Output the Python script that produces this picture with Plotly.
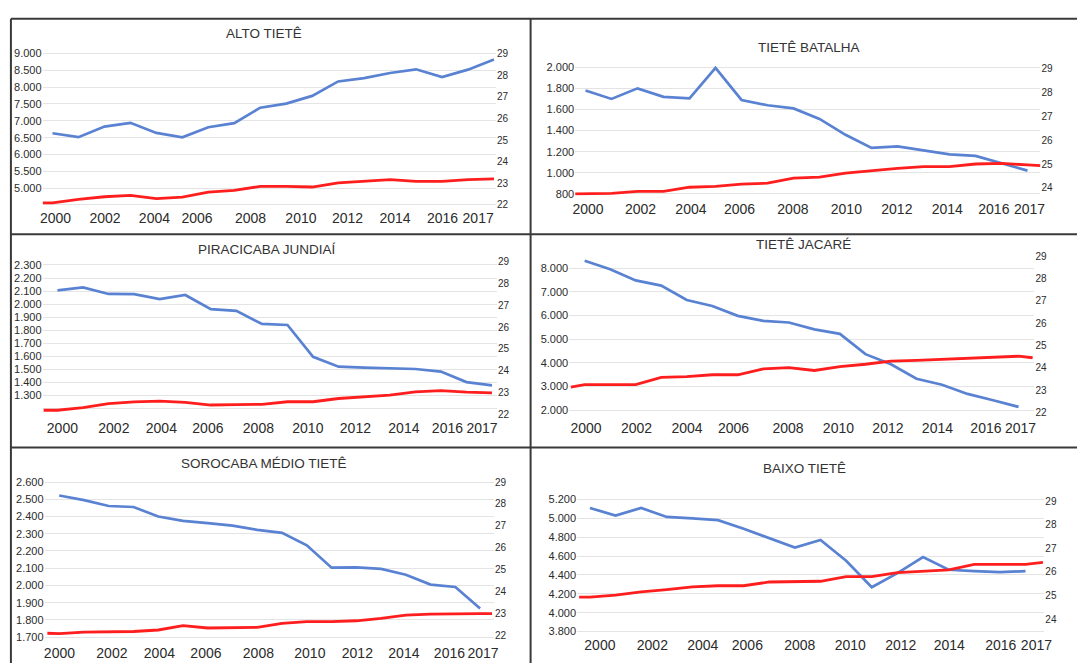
import plotly.graph_objects as go

W, H = 1085, 668

# ---------------- data ----------------
years = list(range(2000, 2018))
xtick_text = ["2000", "2002", "2004", "2006", "2008", "2010", "2012", "2014", "2016", "2017"]

titles = ["ALTO TIETÊ", "TIETÊ BATALHA", "PIRACICABA JUNDIAÍ",
          "TIETÊ JACARÉ", "SOROCABA MÉDIO TIETÊ", "BAIXO TIETÊ"]

# blue series (left axis)
blue_alto_tiete = [6630, 6515, 6830, 6940, 6640, 6510, 6810, 6930, 7390, 7510,
                   7740, 8170, 8270, 8420, 8530, 8300, 8520, 8820]
blue_tiete_batalha = [1780, 1700, 1800, 1720, 1705, 1995, 1690, 1640, 1610, 1510,
                      1360, 1235, 1250, 1210, 1175, 1160, 1090, 1020]
blue_piracicaba = [2105, 2128, 2078, 2076, 2038, 2070, 1961, 1948, 1848, 1840,
                   1596, 1521, 1513, 1508, 1503, 1483, 1403, 1378]
blue_tiete_jacare = [8320, 7960, 7490, 7270, 6660, 6410, 5990, 5780, 5710, 5420,
                     5230, 4370, 3940, 3330, 3080, 2690, 2420, 2140]
blue_sorocaba = [2522, 2495, 2461, 2455, 2400, 2375, 2362, 2347, 2322, 2305,
                 2233, 2103, 2105, 2096, 2062, 2005, 1991, 1866]
blue_baixo_tiete = [5110, 5030, 5110, 5015, 5000, 4980, 4890, 4790, 4690, 4770,
                    4550, 4270, 4420, 4590, 4455, 4440, 4430, 4440]

# red series (right axis) - slightly longer time span than blue
red_x_alto_tiete = [1999.62] + years
red_alto_tiete = [22.10, 22.10, 22.26, 22.38, 22.44, 22.29, 22.36, 22.59, 22.67, 22.86,
                  22.86, 22.83, 23.02, 23.09, 23.17, 23.09, 23.09, 23.17, 23.21]
red_x_tiete_batalha = [1999.6] + years + [2017.5]
red_tiete_batalha = [23.75, 23.75, 23.77, 23.86, 23.86, 24.03, 24.07, 24.16, 24.20, 24.41,
                     24.45, 24.62, 24.73, 24.82, 24.89, 24.89, 25.00, 25.03, 24.96, 24.93]
red_x_piracicaba = [1999.46] + years
red_piracicaba = [22.18, 22.18, 22.30, 22.48, 22.56, 22.60, 22.54, 22.42, 22.44, 22.45,
                  22.57, 22.57, 22.72, 22.80, 22.87, 23.02, 23.08, 23.01, 22.98]
red_x_tiete_jacare = [1999.46] + years + [2017.55]
red_tiete_jacare = [23.14, 23.25, 23.25, 23.25, 23.57, 23.61, 23.69, 23.69, 23.95, 24.01,
                    23.88, 24.05, 24.16, 24.30, 24.33, 24.38, 24.45, 24.48, 24.52, 24.45]
red_x_sorocaba = [1999.52] + years + [2017.48]
red_sorocaba = [22.10, 22.08, 22.15, 22.15, 22.18, 22.25, 22.45, 22.34, 22.34, 22.37,
                22.55, 22.63, 22.63, 22.67, 22.78, 22.93, 22.97, 23.00, 23.00, 23.00]
red_x_baixo_tiete = [1999.58] + years + [2017.68]
red_baixo_tiete = [24.93, 24.93, 25.01, 25.15, 25.25, 25.36, 25.41, 25.41, 25.57, 25.57,
                   25.60, 25.80, 25.80, 25.97, 26.04, 26.08, 26.32, 26.32, 26.32, 26.40]

# tick values / labels
lt_alto = [4500, 5000, 5500, 6000, 6500, 7000, 7500, 8000, 8500, 9000]
ll_alto = ["", "5.000", "5.500", "6.000", "6.500", "7.000", "7.500", "8.000", "8.500", "9.000"]
lt_batalha = [800, 1000, 1200, 1400, 1600, 1800, 2000]
ll_batalha = ["800", "1.000", "1.200", "1.400", "1.600", "1.800", "2.000"]
lt_pira = [1200, 1300, 1400, 1500, 1600, 1700, 1800, 1900, 2000, 2100, 2200, 2300]
ll_pira = ["", "1.300", "1.400", "1.500", "1.600", "1.700", "1.800", "1.900",
           "2.000", "2.100", "2.200", "2.300"]
lt_jacare = [2000, 3000, 4000, 5000, 6000, 7000, 8000]
ll_jacare = ["2.000", "3.000", "4.000", "5.000", "6.000", "7.000", "8.000"]
lt_soro = [1700, 1800, 1900, 2000, 2100, 2200, 2300, 2400, 2500, 2600]
ll_soro = ["1.700", "1.800", "1.900", "2.000", "2.100", "2.200", "2.300", "2.400",
           "2.500", "2.600"]
lt_baixo = [3800, 4000, 4200, 4400, 4600, 4800, 5000, 5200]
ll_baixo = ["3.800", "4.000", "4.200", "4.400", "4.600", "4.800", "5.000", "5.200"]
rt_22_29 = [22, 23, 24, 25, 26, 27, 28, 29]
rt_24_29 = [24, 25, 26, 27, 28, 29]

# ---------------- layout geometry (pixels) ----------------
# dx: plot x-extent, xr: pixel<->year calibration, dy: plot y-extent,
# lr/rr: pixel<->value calibration of left/right axes, tp: title position,
# lx: where the reference prints the year labels (label placement), so: label standoff
panels = [
    dict(blue=blue_alto_tiete, rx=red_x_alto_tiete, red=red_alto_tiete,
         lt=lt_alto, ll=ll_alto, rt=rt_22_29,
         dx=(40, 498), xr=((50, 2000), (496, 2017)), dy=(46, 204),
         lr=((48.3, 9000), (202.3, 4500)), rr=((48.3, 29), (202.3, 22)), tp=(264, 28),
         lx=[53, 103, 153, 196, 250, 301, 348, 396, 444, 480], so=1),
    dict(blue=blue_tiete_batalha, rx=red_x_tiete_batalha, red=red_tiete_batalha,
         lt=lt_batalha, ll=ll_batalha, rt=rt_24_29,
         dx=(578, 1048), xr=((588.5, 2000), (1035, 2017)), dy=(60, 193),
         lr=((62.3, 2000), (191, 800)), rr=((63.3, 29), (185, 24)), tp=(814, 42),
         lx=[591, 644, 695, 744, 798, 852, 903, 954, 1001, 1037], so=3),
    dict(blue=blue_piracicaba, rx=red_x_piracicaba, red=red_piracicaba,
         lt=lt_pira, ll=ll_pira, rt=rt_22_29,
         dx=(40, 499), xr=((55, 2000), (494, 2017)), dy=(260, 416),
         lr=((263.3, 2300), (409.3, 1200)), rr=((260, 29), (415, 22)), tp=(267, 248),
         lx=[60, 112, 160, 207, 258, 308, 356, 405, 449, 484], so=3),
    dict(blue=blue_tiete_jacare, rx=red_x_tiete_jacare, red=red_tiete_jacare,
         lt=lt_jacare, ll=ll_jacare, rt=rt_22_29,
         dx=(572, 1042), xr=((587.6, 2000), (1026, 2017)), dy=(252, 415),
         lr=((266.7, 8000), (411, 2000)), rr=((254.3, 29), (413.3, 22)), tp=(809, 243),
         lx=[589, 640, 691, 738, 793, 844, 894, 944, 993, 1028], so=4),
    dict(blue=blue_sorocaba, rx=red_x_sorocaba, red=red_sorocaba,
         lt=lt_soro, ll=ll_soro, rt=rt_22_29,
         dx=(42, 496), xr=((56.8, 2000), (482, 2017)), dy=(482, 644),
         lr=((484, 2600), (641.7, 1700)), rr=((484, 29), (640, 22)), tp=(264, 465),
         lx=[57, 110, 158, 205, 258, 310, 358, 405, 451, 485], so=4),
    dict(blue=blue_baixo_tiete, rx=red_x_baixo_tiete, red=red_baixo_tiete,
         lt=lt_baixo, ll=ll_baixo, rt=rt_24_29,
         dx=(580, 1052), xr=((592.9, 2000), (1033, 2017)), dy=(500, 638),
         lr=((501.7, 5200), (597.7, 4200)), rr=((503.3, 29), (623.3, 24)), tp=(810, 470),
         lx=[603, 656, 707, 752, 805, 856, 907, 956, 1008, 1044], so=2),
]

BLUE = "#5a82d2"
RED = "#ff1e1e"
GRID = "#e4e4e4"
TXT = "#2b2b2b"
FONT = "Liberation Sans, Arial, sans-serif"


def lin(p, ref):
    (p0, v0), (p1, v1) = ref
    return v0 + (p - p0) * (v1 - v0) / (p1 - p0)


fig = go.Figure()
layout = {}
annotations = []

for i, pn in enumerate(panels, start=1):
    xs = "" if i == 1 else str(i)
    yl = "" if i == 1 else str(2 * i - 1)
    yr = str(2 * i)
    xname, ylname, yrname = "x" + xs, "y" + yl, "y" + yr

    fig.add_trace(go.Scatter(x=years, y=pn["blue"], mode="lines",
                             line=dict(color=BLUE, width=2.7),
                             xaxis=xname, yaxis=ylname, showlegend=False,
                             hoverinfo="skip"))
    fig.add_trace(go.Scatter(x=pn["rx"], y=pn["red"], mode="lines",
                             line=dict(color=RED, width=2.8),
                             xaxis=xname, yaxis=yrname, showlegend=False,
                             hoverinfo="skip"))

    x0, x1 = pn["dx"]
    top, bot = pn["dy"]
    xdom = [x0 / W, x1 / W]
    ydom = [1 - bot / H, 1 - top / H]
    xrange = [lin(x0, pn["xr"]), lin(x1, pn["xr"])]
    lrange = [lin(bot, pn["lr"]), lin(top, pn["lr"])]
    rrange = [lin(bot, pn["rr"]), lin(top, pn["rr"])]
    xtick_pos = [lin(p, pn["xr"]) for p in pn["lx"]]

    layout["xaxis" + xs] = dict(domain=xdom, range=xrange, anchor=ylname,
                                tickmode="array", tickvals=xtick_pos,
                                ticktext=xtick_text, tickangle=0,
                                ticklabelstandoff=pn["so"],
                                showgrid=False, zeroline=False, showline=False,
                                ticks="", tickfont=dict(size=14, color=TXT, family=FONT),
                                fixedrange=True)
    layout["yaxis" + yl] = dict(domain=ydom, range=lrange, anchor=xname,
                                tickmode="array", tickvals=pn["lt"], ticktext=pn["ll"],
                                showgrid=True, gridcolor=GRID, gridwidth=1.2,
                                zeroline=False, showline=False, ticks="",
                                tickfont=dict(size=11, color=TXT, family=FONT),
                                fixedrange=True)
    layout["yaxis" + yr] = dict(range=rrange, anchor=xname, overlaying=ylname,
                                side="right", tickmode="array", tickvals=pn["rt"],
                                showgrid=False, zeroline=False, showline=False,
                                ticks="", tickfont=dict(size=10, color=TXT, family=FONT),
                                fixedrange=True)
    annotations.append(dict(text=titles[i - 1], xref="paper", yref="paper",
                            x=pn["tp"][0] / W, y=1 - pn["tp"][1] / H,
                            xanchor="center", yanchor="middle", showarrow=False,
                            font=dict(size=13.5, color="#333333", family=FONT)))

# panel frame lines (pixels)
frame_lines = [
    (8, 13, W, 13),
    (8, 232, W, 232),
    (8, 449, W, 449),
    (8, 13, 8, H),
    (533, 13, 533, H),
]
shapes = [dict(type="line", xref="paper", yref="paper",
               x0=a / W, y0=1 - b / H, x1=c / W, y1=1 - d / H,
               line=dict(color="#3a3a3a", width=2)) for a, b, c, d in frame_lines]

fig.update_layout(**layout)
fig.update_layout(width=W, height=H, margin=dict(l=0, r=0, t=0, b=0),
                  paper_bgcolor="white", plot_bgcolor="white",
                  annotations=annotations, shapes=shapes,
                  font=dict(family=FONT, color=TXT))

fig.write_html("out.html", config={"displayModeBar": False},
               post_script="document.body.style.margin='0';document.body.style.overflow='hidden';")
